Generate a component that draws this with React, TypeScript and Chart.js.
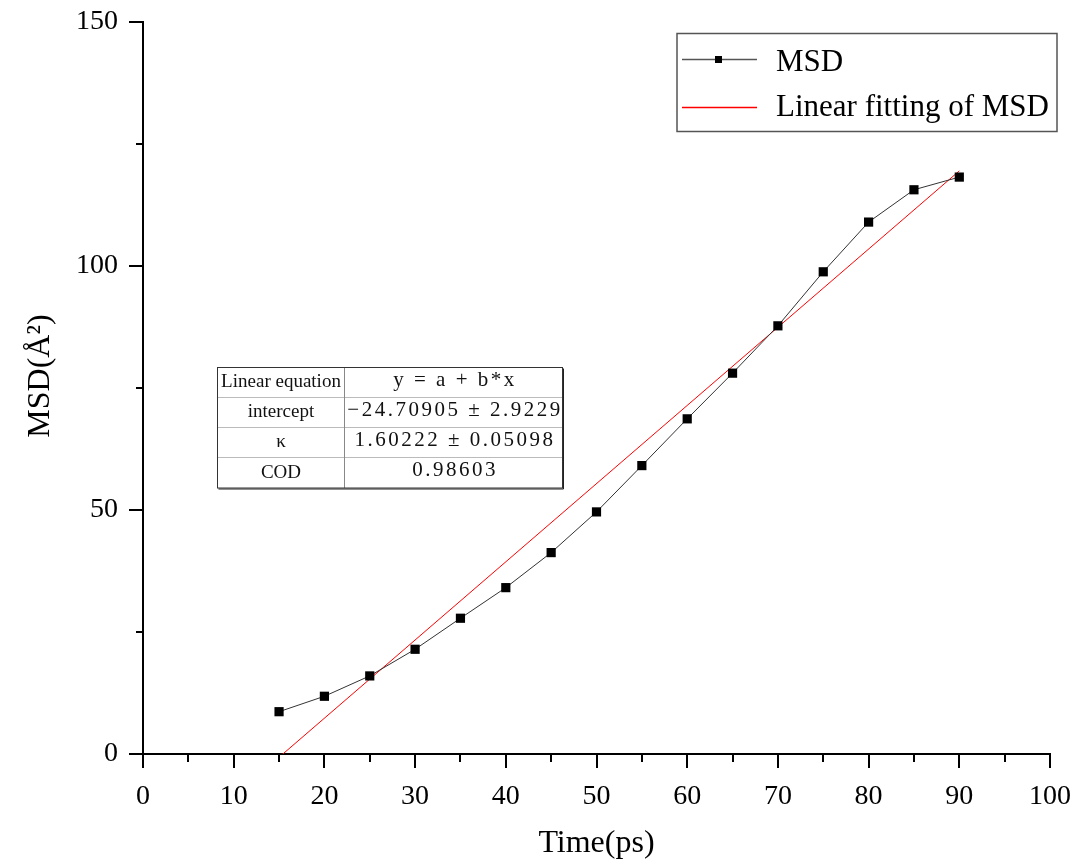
import React, { useEffect, useRef } from 'react';
import { Chart, registerables } from 'chart.js';

Chart.register(...registerables);

const SERIF = '"Liberation Serif", "Times New Roman", serif';

// ---- data ----
const timePs = [15, 20, 25, 30, 35, 40, 45, 50, 55, 60, 65, 70, 75, 80, 85, 90];
const msdValues = [8.67, 11.83, 16.0, 21.46, 27.82, 34.09, 41.27, 49.61, 59.1, 68.68, 78.04, 87.74, 98.81, 109.0, 115.62, 118.22];
const fitX = [15.42, 90];
const fitY = [0, 119.49];
const xTickValues = [0, 5, 10, 15, 20, 25, 30, 35, 40, 45, 50, 55, 60, 65, 70, 75, 80, 85, 90, 95, 100];
const yTickValues = [0, 25, 50, 75, 100, 125, 150];
const seriesLabels = ['MSD', 'Linear fitting of MSD'];
const tableLabels = ['Linear equation', 'intercept', 'κ', 'COD'];
const tableValues = ['y = a + b*x', '−24.70905 ± 2.9229', '1.60222 ± 0.05098', '0.98603'];
const xTitle = 'Time(ps)';
const yTitle = '   MSD(Å²)';

export default function App() {
  const ref = useRef<HTMLCanvasElement>(null);

  useEffect(() => {
    const canvas = ref.current;
    if (!canvas) return;

    const tickPlugin = {
      id: 'outTicks',
      afterDraw(chart: any) {
        const { ctx, chartArea, scales } = chart;
        ctx.save();
        ctx.strokeStyle = '#000';
        ctx.lineWidth = 2;
        ctx.beginPath();
        for (const v of xTickValues) {
          const px = Math.round(scales.x.getPixelForValue(v));
          const len = v % 10 === 0 ? 14 : 8;
          ctx.moveTo(px, chartArea.bottom);
          ctx.lineTo(px, chartArea.bottom + len);
        }
        for (const v of yTickValues) {
          const py = Math.round(scales.y.getPixelForValue(v));
          const len = v % 50 === 0 ? 14 : 7;
          ctx.moveTo(chartArea.left, py);
          ctx.lineTo(chartArea.left - len, py);
        }
        ctx.stroke();
        ctx.restore();
      },
    };

    const legendPlugin = {
      id: 'boxLegend',
      afterDraw(chart: any) {
        const { ctx } = chart;
        ctx.save();
        ctx.strokeStyle = '#555';
        ctx.lineWidth = 1.5;
        ctx.strokeRect(677, 33.5, 380, 98);
        // MSD entry
        ctx.strokeStyle = '#555';
        ctx.lineWidth = 1.3;
        ctx.beginPath();
        ctx.moveTo(682, 59.5);
        ctx.lineTo(757, 59.5);
        ctx.stroke();
        ctx.fillStyle = '#000';
        ctx.fillRect(715, 56, 7, 7);
        // fit entry
        ctx.strokeStyle = '#ff0000';
        ctx.lineWidth = 1.3;
        ctx.beginPath();
        ctx.moveTo(682, 107.5);
        ctx.lineTo(757, 107.5);
        ctx.stroke();
        ctx.fillStyle = '#000';
        ctx.font = `31px ${SERIF}`;
        ctx.textBaseline = 'middle';
        ctx.textAlign = 'left';
        ctx.fillText(seriesLabels[0], 776, 63);
        ctx.fillText(seriesLabels[1], 776, 108);
        ctx.restore();
      },
    };

    const tablePlugin = {
      id: 'fitTable',
      afterDraw(chart: any) {
        const { ctx } = chart;
        const left = 217.5, right = 562.5, mid = 344.5;
        const rows = [367.5, 397.5, 427.5, 457.5, 488];
        ctx.save();
        ctx.fillStyle = '#fff';
        ctx.fillRect(left, rows[0], right - left, rows[4] - rows[0]);
        ctx.lineWidth = 1;
        ctx.strokeStyle = '#bbb';
        ctx.beginPath();
        for (let i = 1; i < 4; i++) {
          ctx.moveTo(left, rows[i]);
          ctx.lineTo(right, rows[i]);
        }
        ctx.stroke();
        ctx.strokeStyle = '#888';
        ctx.beginPath();
        ctx.moveTo(mid, rows[0]);
        ctx.lineTo(mid, rows[4]);
        ctx.stroke();
        ctx.strokeStyle = '#333';
        ctx.strokeRect(left, rows[0], right - left, rows[4] - rows[0]);
        ctx.strokeStyle = '#222';
        ctx.beginPath();
        ctx.moveTo(right + 1, rows[0] + 1);
        ctx.lineTo(right + 1, rows[4] + 1);
        ctx.lineTo(left + 1, rows[4] + 1);
        ctx.stroke();
        ctx.fillStyle = '#111';
        ctx.textBaseline = 'middle';
        ctx.textAlign = 'center';
        for (let i = 0; i < 4; i++) {
          const cy = (rows[i] + rows[i + 1]) / 2;
          ctx.font = `19px ${SERIF}`;
          (ctx as any).letterSpacing = '0px';
          ctx.fillText(tableLabels[i], (left + mid) / 2, cy);
          ctx.font = `21px ${SERIF}`;
          (ctx as any).letterSpacing = '2.5px';
          ctx.fillText(tableValues[i], (mid + right) / 2 + 1.5, cy - 2);
        }
        (ctx as any).letterSpacing = '0px';
        ctx.restore();
      },
    };

    const clearPad = (s: any) => {
      s.paddingTop = 0;
      s.paddingBottom = 0;
      s.paddingLeft = 0;
      s.paddingRight = 0;
    };

    const chart = new Chart(canvas, {
      type: 'line',
      data: {
        datasets: [
          {
            label: seriesLabels[0],
            data: timePs.map((t, i) => ({ x: t, y: msdValues[i] })),
            borderColor: '#333',
            borderWidth: 1,
            pointStyle: 'rect',
            pointRadius: 6.5,
            pointBackgroundColor: '#000',
            pointBorderColor: '#000',
            pointBorderWidth: 0,
            tension: 0,
          },
          {
            label: seriesLabels[1],
            data: fitX.map((t, i) => ({ x: t, y: fitY[i] })),
            borderColor: '#ff0000',
            borderWidth: 1,
            pointRadius: 0,
            tension: 0,
          },
        ],
      },
      options: {
        responsive: false,
        animation: false,
        layout: { padding: { top: 22, right: 27, left: 0, bottom: 0 } },
        plugins: {
          legend: { display: false },
          tooltip: { enabled: false },
        },
        scales: {
          x: {
            type: 'linear',
            min: 0,
            max: 100,
            afterFit: (s: any) => { s.height = 109; clearPad(s); },
            ticks: {
              stepSize: 10,
              color: '#000',
              padding: 26,
              font: { family: SERIF, size: 28 },
            },
            grid: { drawOnChartArea: false, drawTicks: false },
            border: { display: true, color: '#000', width: 2 },
            title: {
              display: true,
              text: xTitle,
              color: '#000',
              font: { family: SERIF, size: 32 },
              padding: { top: 0, bottom: 0 },
            },
          },
          y: {
            type: 'linear',
            min: 0,
            max: 150,
            afterFit: (s: any) => { s.width = 143; clearPad(s); },
            ticks: {
              stepSize: 50,
              color: '#000',
              padding: 25,
              font: { family: SERIF, size: 28 },
            },
            grid: { drawOnChartArea: false, drawTicks: false },
            border: { display: true, color: '#000', width: 2 },
            title: {
              display: true,
              text: yTitle,
              color: '#000',
              font: { family: SERIF, size: 32 },
              padding: { top: 21, bottom: 0 },
            },
          },
        },
      },
      plugins: [tickPlugin, legendPlugin, tablePlugin],
    } as any);

    return () => chart.destroy();
  }, []);

  return (
    <div style={{ position: 'absolute', left: 0, top: 0, width: 1077, height: 863, background: '#fff' }}>
      <canvas ref={ref} width={1077} height={863} style={{ display: 'block' }} />
    </div>
  );
}
